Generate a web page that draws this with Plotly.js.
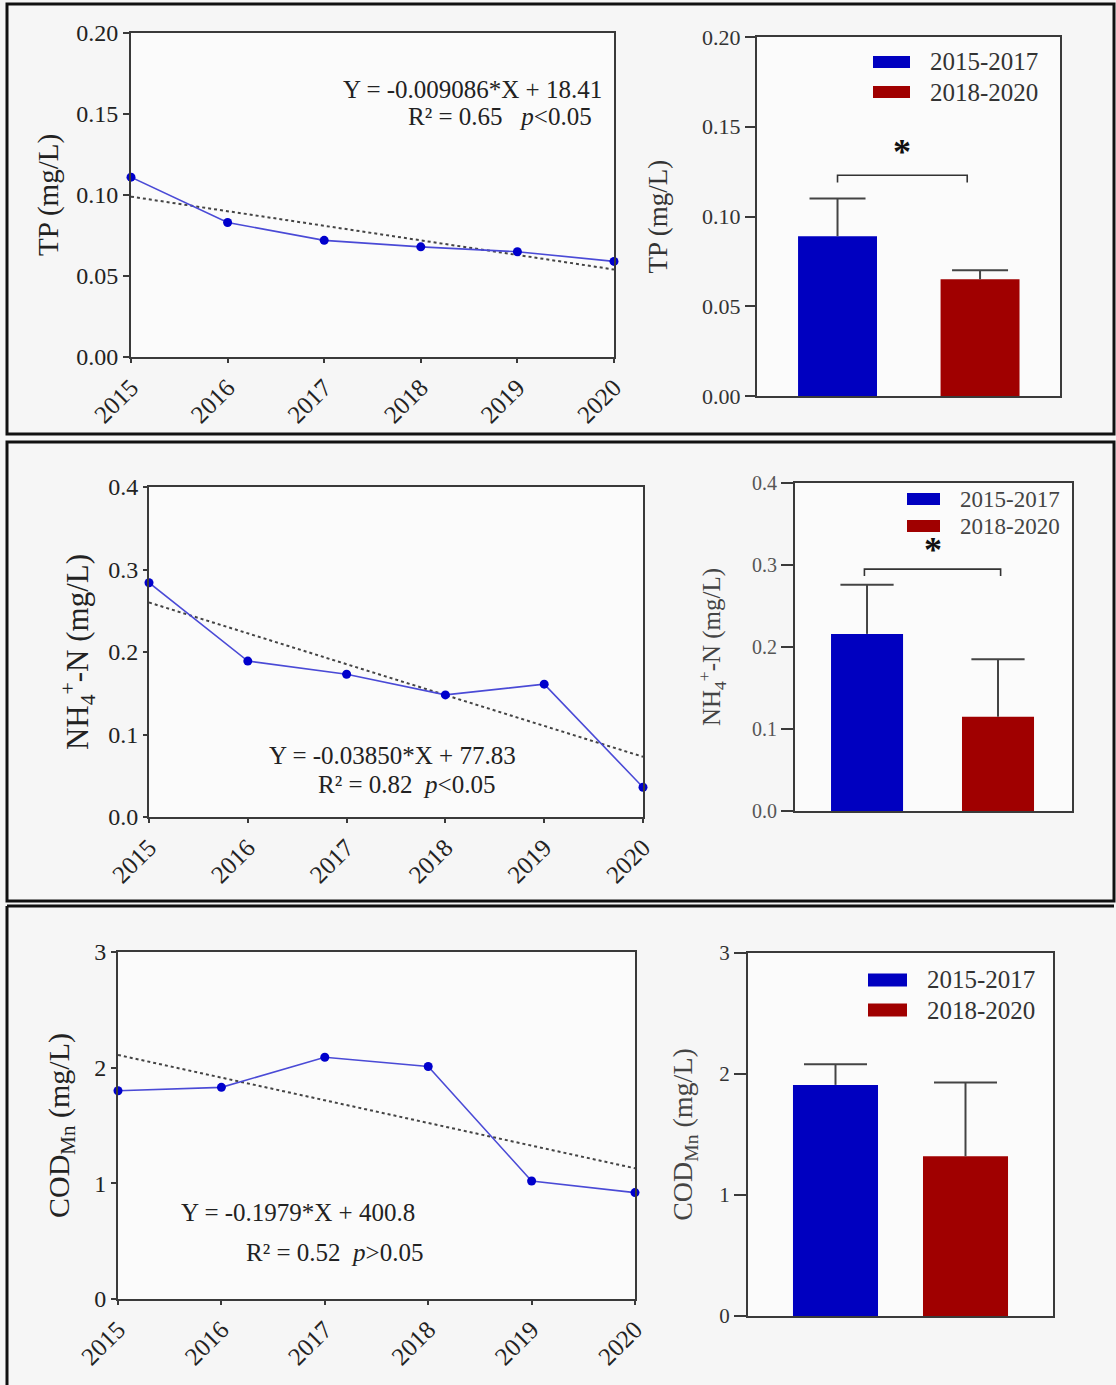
<!DOCTYPE html>
<html>
<head>
<meta charset="utf-8">
<script src="https://cdn.plot.ly/plotly-3.0.1.min.js"></script>
<style>
  html, body { margin: 0; padding: 0; background: #f6f6f6; }
  #chart { width: 1116px; height: 1385px; }
</style>
</head>
<body>
<div id="chart"></div>
<script>
// ---------- data ----------
const years = [2015, 2016, 2017, 2018, 2019, 2020];
const yearLabels = ['2015', '2016', '2017', '2018', '2019', '2020'];
const trendYears = [2015, 2020];

const tpYearly  = [0.111, 0.083, 0.072, 0.068, 0.065, 0.059];
const tpTrend   = [0.099, 0.054];
const nhYearly  = [0.284, 0.189, 0.173, 0.148, 0.161, 0.036];
const nhTrend   = [0.260, 0.073];
const codYearly = [1.80, 1.83, 2.09, 2.01, 1.02, 0.92];
const codTrend  = [2.11, 1.13];

const periods = ['2015-2017', '2018-2020'];
const tpMean  = [0.089, 0.065];
const tpSD    = [0.021, 0.005];
const nhMean  = [0.216, 0.115];
const nhSD    = [0.060, 0.070];
const codMean = [1.91, 1.32];
const codSD   = [0.17, 0.61];

const tpEq  = ['Y = -0.009086*X + 18.41', 'R² = 0.65\u00a0\u00a0 <i>p</i>&lt;0.05'];
const nhEq  = ['Y = -0.03850*X + 77.83', 'R² = 0.82\u00a0 <i>p</i>&lt;0.05'];
const codEq = ['Y = -0.1979*X + 400.8', 'R² = 0.52\u00a0 <i>p</i>&gt;0.05'];

// ---------- helpers ----------
const W = 1116, H = 1385;
const fx = p => p / W;
const fy = p => 1 - p / H;
const SERIF = 'Liberation Serif, Times New Roman, serif';
const BLUE = '#0000c0', RED = '#a00000';
const AX = '#3a3a3a';
const periodColors = [BLUE, RED];

function lineTraces(vals, trend, xa, ya) {
  return [
    { x: trendYears, y: trend, xaxis: xa, yaxis: ya, mode: 'lines', type: 'scatter',
      line: { color: '#444', width: 2, dash: 'dot' }, showlegend: false, hoverinfo: 'skip' },
    { x: years, y: vals, xaxis: xa, yaxis: ya, mode: 'lines+markers', type: 'scatter',
      line: { color: '#4a4ad6', width: 1.6 }, marker: { color: '#0000cc', size: 9 },
      cliponaxis: false, showlegend: false }
  ];
}
function barTraces(means, sds, xa, ya, w, cap) {
  return [
    { x: [0, 1], y: means, xaxis: xa, yaxis: ya, type: 'bar', width: w,
      marker: { color: periodColors, line: { width: 0 } },
      error_y: { type: 'data', symmetric: false, array: sds, arrayminus: [0, 0],
        color: '#444', thickness: 2, width: 0 },
      hovertext: periods, showlegend: false },
    // cap of the upper error whisker
    { x: [0, 1], y: means.map((m, i) => m + sds[i]), xaxis: xa, yaxis: ya, type: 'scatter', mode: 'markers',
      marker: { symbol: 'line-ew', size: cap, color: '#444', line: { color: '#444', width: 2 } },
      showlegend: false, hoverinfo: 'skip', cliponaxis: false }
  ];
}
function bracket(x0, x1, yTop, drop, xa, ya) {
  return { x: [x0, x0, x1, x1], y: [yTop - drop, yTop, yTop, yTop - drop], xaxis: xa, yaxis: ya,
    type: 'scatter', mode: 'lines', line: { color: '#333', width: 1.6 }, showlegend: false, hoverinfo: 'skip' };
}

const data = [
  ...lineTraces(tpYearly, tpTrend, 'x', 'y'),
  ...barTraces(tpMean, tpSD, 'x2', 'y2', 0.554, 40),
  bracket(0, 0.91, 0.123, 0.004, 'x2', 'y2'),
  ...lineTraces(nhYearly, nhTrend, 'x3', 'y3'),
  ...barTraces(nhMean, nhSD, 'x4', 'y4', 0.55, 38),
  bracket(-0.02, 1.02, 0.295, 0.0085, 'x4', 'y4'),
  ...lineTraces(codYearly, codTrend, 'x5', 'y5'),
  ...barTraces(codMean, codSD, 'x6', 'y6', 0.654, 45)
];

function lineX(d0, d1, anchor) {
  return { anchor: anchor, domain: [fx(d0), fx(d1)], range: [2015, 2020], tickvals: years, ticktext: yearLabels,
    tickangle: -45, ticks: 'outside', ticklen: 4, tickwidth: 2, tickcolor: AX,
    showline: true, linecolor: AX, linewidth: 2, mirror: true, showgrid: false, zeroline: false,
    tickfont: { family: SERIF, size: 25, color: '#222' } };
}
function barX(d0, d1, r, anchor) {
  return { anchor: anchor, domain: [fx(d0), fx(d1)], range: r, showticklabels: false, ticks: '',
    showline: true, linecolor: AX, linewidth: 2, mirror: true, showgrid: false, zeroline: false };
}
function yAx(anchor, top, bot, range, dtick, fmt, tfs, tcol, tlen, ttl, tfs2, standoff, fcol) {
  return { anchor: anchor, domain: [fy(bot), fy(top)], range: range, dtick: dtick, tick0: 0, tickformat: fmt,
    ticks: 'outside', ticklen: tlen, tickwidth: 2, tickcolor: AX,
    showline: true, linecolor: AX, linewidth: 2, mirror: true, showgrid: false, zeroline: false,
    tickfont: { family: SERIF, size: tfs, color: tcol },
    title: { text: ttl, font: { family: SERIF, size: tfs2, color: fcol }, standoff: standoff } };
}

const layout = {
  width: W, height: H,
  margin: { l: 0, r: 0, t: 0, b: 0 },
  paper_bgcolor: '#f6f6f6', plot_bgcolor: '#fbfbfb',
  showlegend: false, barmode: 'overlay',
  font: { family: SERIF, color: '#222' },
  xaxis:  lineX(131, 614, 'y'),
  yaxis:  yAx('x', 33, 357, [0, 0.2], 0.05, '.2f', 24, '#222', 6, 'TP (mg/L)', 29, 9, '#222'),
  xaxis2: barX(757, 1060, [-0.565, 1.561], 'y2'),
  yaxis2: yAx('x2', 37, 396, [0, 0.2], 0.05, '.2f', 22, '#333', 10, 'TP (mg/L)', 27, 27, '#333'),
  xaxis3: lineX(149, 643, 'y3'),
  yaxis3: yAx('x3', 487, 817, [0, 0.4], 0.1, '.1f', 24, '#222', 4, 'NH<sub>4</sub><sup>+</sup>-N (mg/L)', 31, 10, '#222'),
  xaxis4: barX(795, 1072, [-0.55, 1.565], 'y4'),
  yaxis4: yAx('x4', 483, 811, [0, 0.4], 0.1, '.1f', 20, '#555', 12, 'NH<sub>4</sub><sup>+</sup>-N (mg/L)', 25, 24, '#444'),
  xaxis5: lineX(118, 635, 'y5'),
  yaxis5: yAx('x5', 952, 1299, [0, 3], 1, 'd', 24, '#222', 5, 'COD<sub>Mn</sub> (mg/L)', 30, 16, '#222'),
  xaxis6: barX(748, 1053, [-0.673, 1.673], 'y6'),
  yaxis6: yAx('x6', 953, 1316, [0, 3], 1, 'd', 21, '#333', 12, 'COD<sub>Mn</sub> (mg/L)', 28, 18, '#444'),
  shapes: [],
  annotations: []
};

// panel frames
const frameLine = { color: '#111', width: 3 };
layout.shapes.push(
  { type: 'rect', xref: 'paper', yref: 'paper', x0: fx(7), x1: fx(1114), y0: fy(434), y1: fy(4), line: frameLine },
  { type: 'rect', xref: 'paper', yref: 'paper', x0: fx(7), x1: fx(1114), y0: fy(901), y1: fy(442), line: frameLine },
  { type: 'line', xref: 'paper', yref: 'paper', x0: fx(7), x1: fx(1114), y0: fy(906), y1: fy(906), line: frameLine },
  { type: 'line', xref: 'paper', yref: 'paper', x0: fx(7), x1: fx(7), y0: fy(906), y1: 0, line: frameLine }
);

// manual legends
function legend(xl, xr, yb, yr, h, tx, fs, col) {
  [yb, yr].forEach((yc, i) => {
    layout.shapes.push({ type: 'rect', xref: 'paper', yref: 'paper', x0: fx(xl), x1: fx(xr),
      y0: fy(yc + h / 2), y1: fy(yc - h / 2), fillcolor: periodColors[i], line: { width: 0 } });
    layout.annotations.push({ xref: 'paper', yref: 'paper', x: fx(tx), y: fy(yc), xanchor: 'left', yanchor: 'middle',
      text: periods[i], showarrow: false, font: { family: SERIF, size: fs, color: col } });
  });
}
legend(873, 910, 62, 92, 12, 928, 25, '#333');
legend(907, 940, 499, 526, 12, 958, 23, '#444');
legend(868, 907, 980, 1010, 13, 925, 25, '#333');

// equations
function eq(texts, anchor, xs, ys, fs) {
  texts.forEach((t, i) => layout.annotations.push({ xref: 'paper', yref: 'paper', x: fx(xs[i]), y: fy(ys[i]),
    xanchor: anchor, yanchor: 'middle', text: t, showarrow: false, font: { family: SERIF, size: fs, color: '#222' } }));
}
eq(tpEq, 'right', [604, 594], [89, 117], 25);
eq(nhEq, 'left', [267, 316], [755, 784], 25);
eq(codEq, 'left', [179, 244], [1212, 1252], 25);

// significance stars
layout.annotations.push(
  { xref: 'x2', yref: 'y2', x: 0.45, y: 0.138, text: '<b>*</b>', showarrow: false, yanchor: 'middle', yshift: -4,
    font: { family: SERIF, size: 36, color: '#111' } },
  { xref: 'x4', yref: 'y4', x: 0.5, y: 0.323, text: '<b>*</b>', showarrow: false, yanchor: 'middle', yshift: -4,
    font: { family: SERIF, size: 36, color: '#111' } }
);

Plotly.newPlot('chart', data, layout, { displayModeBar: false, staticPlot: true });
</script>
</body>
</html>
